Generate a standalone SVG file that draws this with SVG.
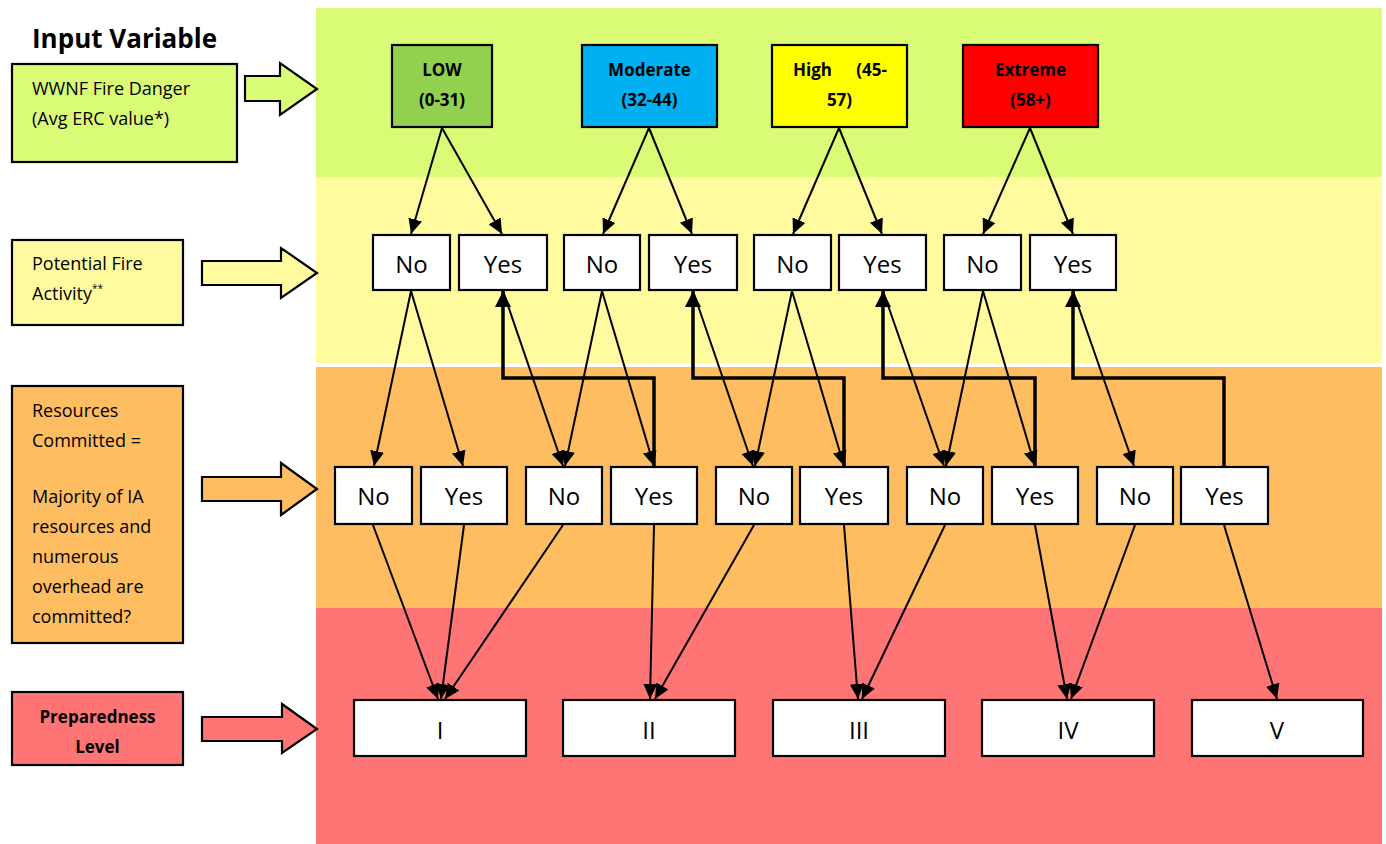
<svg xmlns="http://www.w3.org/2000/svg" width="1386" height="844" viewBox="0 0 1386 844">
<defs>
<marker id="ah" markerUnits="userSpaceOnUse" markerWidth="16" markerHeight="14" refX="15" refY="7" orient="auto" viewBox="0 0 16 14">
<path d="M0,0 L15,7 L0,14 z" fill="#000"/>
</marker>
<marker id="ahb" markerUnits="userSpaceOnUse" markerWidth="18" markerHeight="16" refX="16" refY="8" orient="auto" viewBox="0 0 18 16">
<path d="M0,0 L16,8 L0,16 z" fill="#000"/>
</marker>
</defs>
<style>
text{font-family:"Open Sans","Liberation Sans",sans-serif;fill:#000}
.lbl{font-size:18px}
.ttl{font-size:26px;font-weight:bold}
.bold{font-size:17px;font-weight:bold}
.yn{font-size:24px;text-anchor:middle}
.mid{text-anchor:middle}
.box{stroke:#000;stroke-width:2.2}
.wbox{fill:#fff;stroke:#000;stroke-width:2.2}
.arr{stroke:#000;stroke-width:2.2;stroke-linejoin:miter}
.c{fill:none;stroke:#000;stroke-width:2;marker-end:url(#ah)}
.cb{fill:none;stroke:#000;stroke-width:3.5;stroke-linejoin:miter;marker-end:url(#ahb)}
</style>
<rect width="1386" height="844" fill="#fff"/>
<g id="bands">
<rect x="316" y="8" width="1066" height="170" fill="#DAFB76"/>
<rect x="316" y="177" width="1066" height="186" fill="#FFFB9E"/>
<rect x="316" y="367" width="1066" height="241" fill="#FDBD60"/>
<rect x="316" y="608" width="1066" height="236" fill="#FF7575"/>
</g>
<g id="title"><text class="ttl" x="32" y="48">Input Variable</text></g>
<g id="input-fire-danger">
<rect class="box" x="12" y="64" width="225" height="98" fill="#DAFB76"/>
<text class="lbl" x="32" y="95">WWNF Fire Danger</text>
<text class="lbl" x="32" y="125">(Avg ERC value*)</text>
<polygon class="arr" fill="#DAFB76" points="245,76 280,76 280,63 317,89 280,115 280,101 245,101"/>
</g>
<g id="input-fire-activity">
<rect class="box" x="12" y="240" width="171" height="85" fill="#FFFB9E"/>
<text class="lbl" x="32" y="270">Potential Fire</text>
<text class="lbl" x="32" y="300">Activity<tspan font-size="10" dy="-8">**</tspan></text>
<polygon class="arr" fill="#FFFB9E" points="202,261 281,261 281,248 317,273 281,298 281,285 202,285"/>
</g>
<g id="input-resources">
<rect class="box" x="12" y="386" width="171" height="257" fill="#FDBD60"/>
<text class="lbl" x="32" y="417">Resources</text>
<text class="lbl" x="32" y="447">Committed =</text>
<text class="lbl" x="32" y="503">Majority of IA</text>
<text class="lbl" x="32" y="533">resources and</text>
<text class="lbl" x="32" y="563">numerous</text>
<text class="lbl" x="32" y="593">overhead are</text>
<text class="lbl" x="32" y="623">committed?</text>
<polygon class="arr" fill="#FDBD60" points="202,477 281,477 281,463 317,489 281,515 281,501 202,501"/>
</g>
<g id="input-preparedness">
<rect class="box" x="12" y="692" width="171" height="73" fill="#FF7575"/>
<text class="bold mid" x="97.5" y="723">Preparedness</text>
<text class="bold mid" x="97.5" y="753">Level</text>
<polygon class="arr" fill="#FF7575" points="202,717 282,717 282,704 317,729 282,753 282,741 202,741"/>
</g>
<g id="danger-low">
<rect class="box" x="392" y="45" width="100" height="82" fill="#92D050"/>
<text class="bold mid" x="442" y="76">LOW</text>
<text class="bold mid" x="442" y="106">(0-31)</text>
</g>
<g id="danger-moderate">
<rect class="box" x="582" y="45" width="135" height="82" fill="#00B0F0"/>
<text class="bold mid" x="649.5" y="76">Moderate</text>
<text class="bold mid" x="649.5" y="106">(32-44)</text>
</g>
<g id="danger-high">
<rect class="box" x="772" y="45" width="135" height="82" fill="#FFFF00"/>
<text class="bold" x="793" y="76">High</text>
<text class="bold" x="887" y="76" text-anchor="end">(45-</text>
<text class="bold mid" x="839.5" y="106">57)</text>
</g>
<g id="danger-extreme">
<rect class="box" x="963" y="45" width="135" height="82" fill="#FF0000"/>
<text class="bold mid" x="1030.5" y="76">Extreme</text>
<text class="bold mid" x="1030.5" y="106">(58+)</text>
</g>
<g id="activity-row">
<g id="act-low-no"><rect class="wbox" x="373" y="235" width="77" height="55"/><text class="yn" x="411.5" y="273">No</text></g>
<g id="act-low-yes"><rect class="wbox" x="459" y="235" width="88" height="55"/><text class="yn" x="503" y="273">Yes</text></g>
<g id="act-mod-no"><rect class="wbox" x="564" y="235" width="76" height="55"/><text class="yn" x="602" y="273">No</text></g>
<g id="act-mod-yes"><rect class="wbox" x="649" y="235" width="88" height="55"/><text class="yn" x="693" y="273">Yes</text></g>
<g id="act-high-no"><rect class="wbox" x="754" y="235" width="77" height="55"/><text class="yn" x="792.5" y="273">No</text></g>
<g id="act-high-yes"><rect class="wbox" x="839" y="235" width="87" height="55"/><text class="yn" x="882.5" y="273">Yes</text></g>
<g id="act-ext-no"><rect class="wbox" x="944" y="235" width="77" height="55"/><text class="yn" x="982.5" y="273">No</text></g>
<g id="act-ext-yes"><rect class="wbox" x="1030" y="235" width="86" height="55"/><text class="yn" x="1073" y="273">Yes</text></g>
</g>
<g id="resources-row">
<g id="res-1-no"><rect class="wbox" x="335" y="467" width="77" height="57"/><text class="yn" x="373.5" y="505">No</text></g>
<g id="res-1-yes"><rect class="wbox" x="421" y="467" width="86" height="57"/><text class="yn" x="464" y="505">Yes</text></g>
<g id="res-2-no"><rect class="wbox" x="526" y="467" width="76" height="57"/><text class="yn" x="564" y="505">No</text></g>
<g id="res-2-yes"><rect class="wbox" x="611" y="467" width="86" height="57"/><text class="yn" x="654" y="505">Yes</text></g>
<g id="res-3-no"><rect class="wbox" x="716" y="467" width="76" height="57"/><text class="yn" x="754" y="505">No</text></g>
<g id="res-3-yes"><rect class="wbox" x="800" y="467" width="88" height="57"/><text class="yn" x="844" y="505">Yes</text></g>
<g id="res-4-no"><rect class="wbox" x="907" y="467" width="76" height="57"/><text class="yn" x="945" y="505">No</text></g>
<g id="res-4-yes"><rect class="wbox" x="992" y="467" width="86" height="57"/><text class="yn" x="1035" y="505">Yes</text></g>
<g id="res-5-no"><rect class="wbox" x="1097" y="467" width="76" height="57"/><text class="yn" x="1135" y="505">No</text></g>
<g id="res-5-yes"><rect class="wbox" x="1181" y="467" width="87" height="57"/><text class="yn" x="1224.5" y="505">Yes</text></g>
</g>
<g id="levels-row">
<g id="level-1"><rect class="wbox" x="354" y="700" width="172" height="56"/><text class="yn" x="440" y="739">I</text></g>
<g id="level-2"><rect class="wbox" x="563" y="700" width="172" height="56"/><text class="yn" x="649" y="739">II</text></g>
<g id="level-3"><rect class="wbox" x="773" y="700" width="172" height="56"/><text class="yn" x="859" y="739">III</text></g>
<g id="level-4"><rect class="wbox" x="982" y="700" width="172" height="56"/><text class="yn" x="1068" y="739">IV</text></g>
<g id="level-5"><rect class="wbox" x="1192" y="700" width="171" height="56"/><text class="yn" x="1277" y="739">V</text></g>
</g>
<g id="connectors">
<line class="c" x1="442" y1="128" x2="411" y2="234"/>
<line class="c" x1="442" y1="128" x2="502" y2="234"/>
<line class="c" x1="649" y1="128" x2="603" y2="234"/>
<line class="c" x1="649" y1="128" x2="692" y2="234"/>
<line class="c" x1="839" y1="128" x2="793" y2="234"/>
<line class="c" x1="839" y1="128" x2="882" y2="234"/>
<line class="c" x1="1030" y1="128" x2="983" y2="234"/>
<line class="c" x1="1030" y1="128" x2="1073" y2="234"/>

<line class="c" x1="411" y1="291" x2="374" y2="466"/>
<line class="c" x1="411" y1="291" x2="463" y2="466"/>
<line class="c" x1="503" y1="291" x2="563" y2="466"/>
<line class="c" x1="602" y1="291" x2="565" y2="466"/>
<line class="c" x1="602" y1="291" x2="654" y2="466"/>
<line class="c" x1="693" y1="291" x2="753" y2="466"/>
<line class="c" x1="792" y1="291" x2="755" y2="466"/>
<line class="c" x1="792" y1="291" x2="844" y2="466"/>
<line class="c" x1="883" y1="291" x2="944" y2="466"/>
<line class="c" x1="983" y1="291" x2="946" y2="466"/>
<line class="c" x1="983" y1="291" x2="1035" y2="466"/>
<line class="c" x1="1073" y1="291" x2="1134" y2="466"/>

<polyline class="cb" points="654,467 654,378 503,378 503,291"/>
<polyline class="cb" points="844,467 844,378 693,378 693,291"/>
<polyline class="cb" points="1035,467 1035,378 883,378 883,291"/>
<polyline class="cb" points="1224,467 1224,378 1073,378 1073,291"/>

<line class="c" x1="373" y1="525" x2="438" y2="699"/>
<line class="c" x1="464" y1="525" x2="441" y2="699"/>
<line class="c" x1="563" y1="525" x2="445" y2="699"/>
<line class="c" x1="654" y1="525" x2="650" y2="699"/>
<line class="c" x1="754" y1="525" x2="655" y2="699"/>
<line class="c" x1="844" y1="525" x2="858" y2="699"/>
<line class="c" x1="945" y1="525" x2="862" y2="699"/>
<line class="c" x1="1035" y1="525" x2="1067" y2="699"/>
<line class="c" x1="1135" y1="525" x2="1071" y2="699"/>
<line class="c" x1="1224" y1="525" x2="1277" y2="699"/>
</g>
</svg>
